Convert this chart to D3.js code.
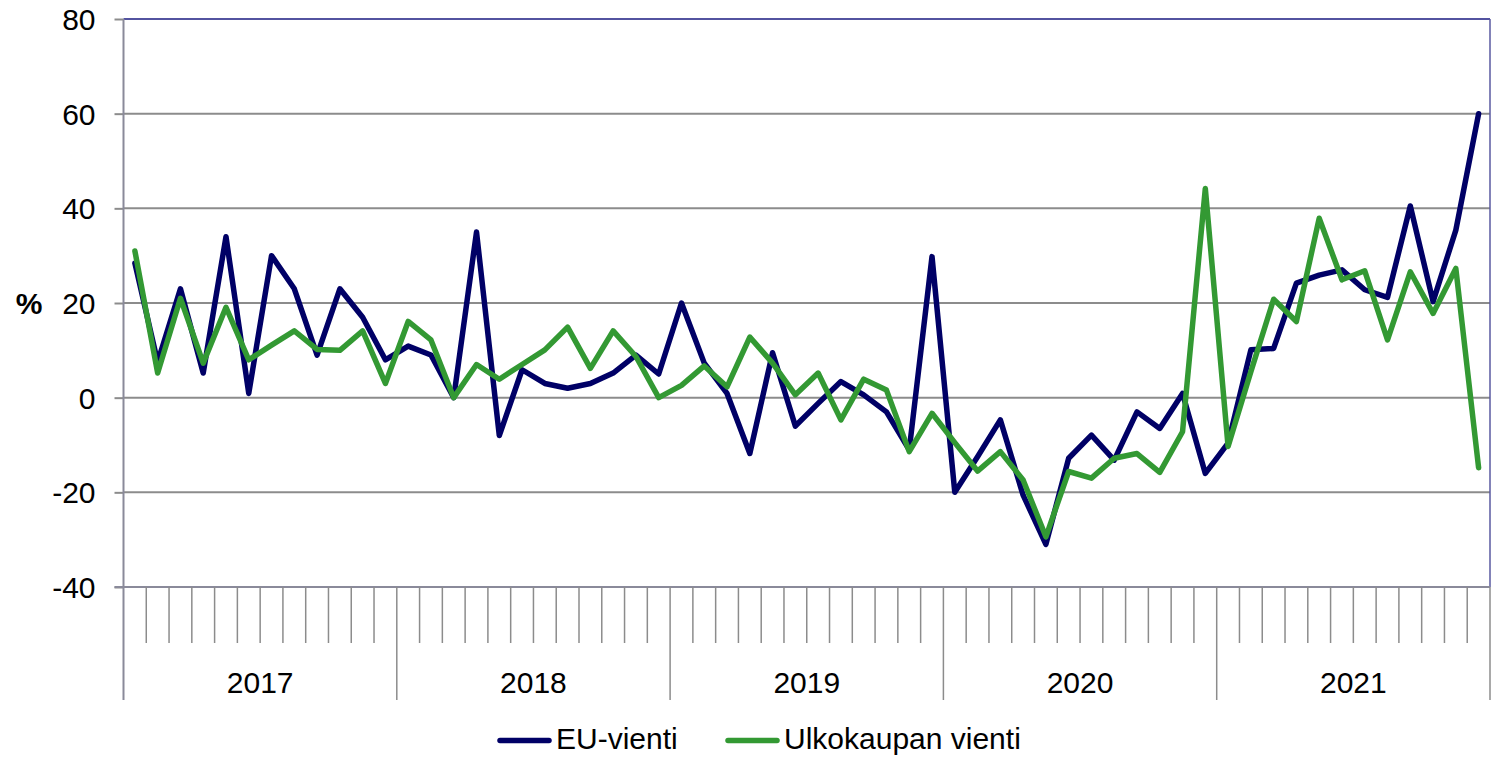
<!DOCTYPE html>
<html>
<head>
<meta charset="utf-8">
<script src="https://cdn.jsdelivr.net/npm/d3@7"></script>
<style>
  body { margin: 0; background: #fff; }
  text { font-family: "Liberation Sans", Arial, sans-serif; fill: #000; }
</style>
</head>
<body>
<div class="chart"></div>
<script>
// monthly values 2017-2021, % change
const years = ['2017', '2018', '2019', '2020', '2021'];
const yTicks = [-40, -20, 0, 20, 40, 60, 80];
const seriesNames = ['EU-vienti', 'Ulkokaupan vienti'];

const euVienti = [
  28.4, 7.5, 23, 5.2, 34, 0.9, 30, 23, 9, 23, 17, 8,
  10.9, 9, 0, 35, -8, 5.9, 3, 2, 3, 5.2, 9, 5,
  20, 7.3, 0.9, -11.8, 9.5, -6, -1.2, 3.4, 0.6, -3, -11, 29.8,
  -20, -12.5, -4.7, -20.6, -31, -12.8, -7.9, -13.2, -3, -6.5, 0.9, -16,
  -9.6, 10.1, 10.4, 24.2, 25.9, 27, 22.8, 21.2, 40.5, 20.3, 35.4, 60
];
const ulkoVienti = [
  31, 5.2, 21, 7.3, 19.1, 8, 11.1, 14.1, 10.2, 10, 14.1, 3,
  16.1, 12.2, 0, 7, 3.9, 7, 10.1, 14.9, 6.2, 14.1, 8.7, 0,
  2.6, 6.7, 2.3, 12.8, 7.3, 0.6, 5.2, -4.7, 3.9, 1.6, -11.4, -3.3,
  -9.5, -15.5, -11.4, -17.4, -29.4, -15.6, -17, -12.8, -11.8, -15.8, -7.2, 44.2,
  -10.3, 5.5, 20.8, 16.1, 37.9, 24.9, 26.8, 12.2, 26.6, 17.8, 27.3, -14.8
];
const colors = ['#000066', '#339933'];

const W = 1491, H = 758;
const plotLeft = 123.5, plotRight = 1490, plotTop = 19, plotBottom = 587;
const fontSize = '30px';

const svg = d3.select('.chart').append('svg')
  .attr('width', W)
  .attr('height', H);

const months = d3.range(euVienti.length);
const x = d3.scaleBand().domain(months).range([plotLeft, plotRight]).padding(0);
const y = d3.scaleLinear().domain([-40, 80]).range([plotBottom, plotTop]);

// gridlines
svg.append('g').selectAll('line')
  .data(yTicks.filter(d => d > -40 && d < 80))
  .enter().append('line')
  .attr('x1', plotLeft).attr('x2', plotRight)
  .attr('y1', d => y(d)).attr('y2', d => y(d))
  .attr('stroke', '#8c8c8c').attr('stroke-width', 2);

// top & right frame
svg.append('line').attr('x1', plotLeft).attr('x2', plotRight).attr('y1', y(80)).attr('y2', y(80))
  .attr('stroke', '#1a1a80').attr('stroke-width', 1.5);
svg.append('line').attr('x1', plotRight).attr('x2', plotRight).attr('y1', y(80)).attr('y2', plotBottom)
  .attr('stroke', '#5a5aa0').attr('stroke-width', 1.5);

// y axis
const yAxis = d3.axisLeft(y).tickValues(yTicks).tickSize(9).tickPadding(19)
  .tickFormat(d => String(d));
const gy = svg.append('g').attr('transform', `translate(${plotLeft},0)`).call(yAxis);
gy.select('.domain').remove();
gy.selectAll('.tick line').attr('stroke', '#8c8c8c').attr('stroke-width', 2);
gy.selectAll('.tick text')
  .style('font-size', fontSize)
  .style('font-family', '"Liberation Sans", Arial, sans-serif')
  .attr('fill', '#000')
  .attr('dy', '0.35em');

svg.append('line').attr('x1', plotLeft).attr('x2', plotLeft).attr('y1', plotTop).attr('y2', 700)
  .attr('stroke', '#8a8a9a').attr('stroke-width', 2);

svg.append('text')
  .attr('x', 29).attr('y', y(20) + 11)
  .attr('text-anchor', 'middle')
  .style('font-size', fontSize).style('font-weight', 'bold')
  .text('%');

// x axis line + month ticks
svg.append('line').attr('x1', plotLeft - 9).attr('x2', plotRight).attr('y1', plotBottom).attr('y2', plotBottom)
  .attr('stroke', '#8a8a9a').attr('stroke-width', 2);

const boundaries = d3.range(euVienti.length + 1);
svg.append('g').selectAll('line')
  .data(boundaries.slice(1))
  .enter().append('line')
  .attr('x1', d => plotLeft + d * x.bandwidth())
  .attr('x2', d => plotLeft + d * x.bandwidth())
  .attr('y1', plotBottom)
  .attr('y2', d => d % 12 === 0 ? 700 : 643)
  .attr('stroke', '#8c8c8c').attr('stroke-width', 1.5);

svg.append('g').selectAll('text')
  .data(years)
  .enter().append('text')
  .attr('x', (d, i) => plotLeft + (i * 12 + 6) * x.bandwidth())
  .attr('y', 693)
  .attr('text-anchor', 'middle')
  .style('font-size', fontSize)
  .text(d => d);

// lines
const line = d3.line()
  .x((d, i) => x(i) + x.bandwidth() / 2)
  .y(d => y(d));

[euVienti, ulkoVienti].forEach((s, k) => {
  svg.append('path')
    .datum(s)
    .attr('d', line)
    .attr('fill', 'none')
    .attr('stroke', colors[k])
    .attr('stroke-width', 5.5)
    .attr('stroke-linejoin', 'round')
    .attr('stroke-linecap', 'round');
});

// legend
const legendX = [500, 728];
seriesNames.forEach((name, k) => {
  const g = svg.append('g').attr('transform', `translate(${legendX[k]},740.5)`);
  g.append('line').attr('x1', 0).attr('x2', 49).attr('y1', 0).attr('y2', 0)
    .attr('stroke', colors[k]).attr('stroke-width', 5.5).attr('stroke-linecap', 'round');
  g.append('text').attr('x', 56).attr('y', 8.5)
    .style('font-size', fontSize)
    .text(name);
});
</script>
</body>
</html>
